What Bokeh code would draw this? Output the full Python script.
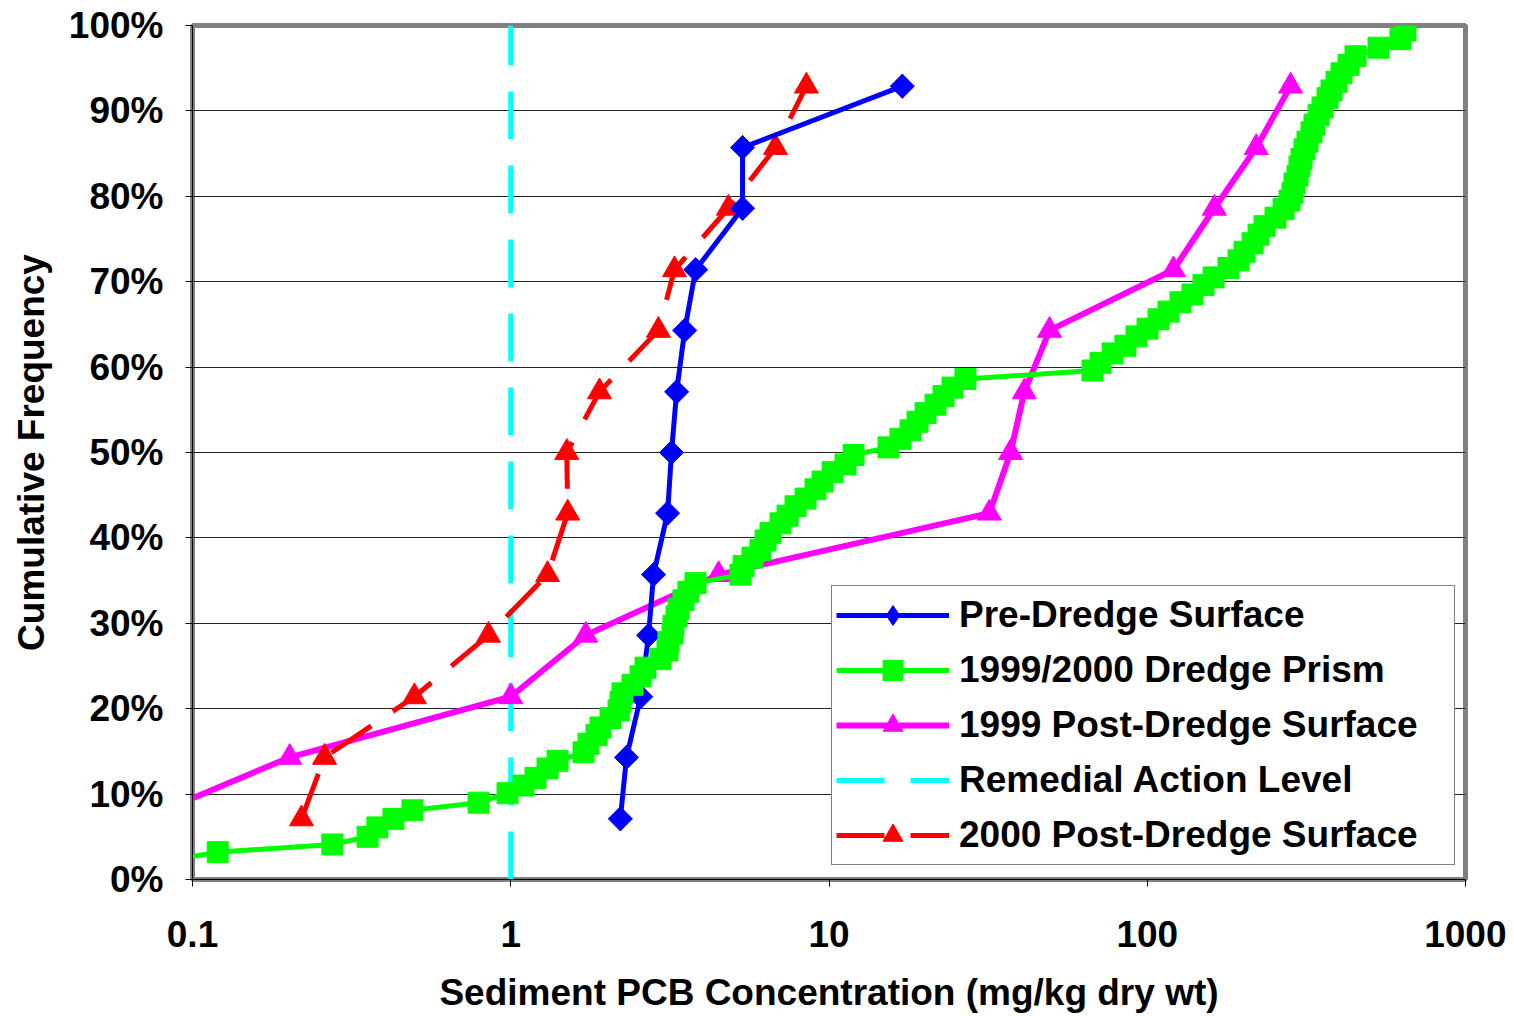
from bokeh.plotting import figure
from bokeh.models import FixedTicker, Legend, LegendItem, CustomJSTickFormatter
from bokeh.embed import file_html
from bokeh.resources import INLINE
import math

# ---------------- data ----------------
x_ticks = [0.1, 1, 10, 100, 1000]
y_ticks = [0, 10, 20, 30, 40, 50, 60, 70, 80, 90, 100]

rank_pct = [7.1, 14.3, 21.4, 28.6, 35.7, 42.9, 50.0, 57.1, 64.3, 71.4, 78.6, 85.7, 92.9]

pre_dredge_x = [2.21, 2.31, 2.56, 2.71, 2.81, 3.11, 3.20, 3.32, 3.52, 3.81, 5.35, 5.35, 17.0]
pre_dredge_y = rank_pct

post1999_x = [0.07, 0.202, 1.0, 1.72, 4.50, 31.9, 37.2, 41.1, 49.3, 120.9, 162.5, 220.0, 282.0]
post1999_y = rank_pct

post2000_x = [0.220, 0.260, 0.498, 0.851, 1.305, 1.51, 1.50, 1.90, 2.91, 3.27, 4.83, 6.79, 8.49]
post2000_y = rank_pct

prism_x = [0.083, 0.120, 0.275, 0.355, 0.381, 0.428, 0.491, 0.792, 0.977, 1.097,
           1.196, 1.305, 1.403, 1.693, 1.755, 1.859, 1.914, 2.058, 2.181, 2.213,
           2.244, 2.413, 2.557, 2.651, 2.954, 3.108, 3.131, 3.223, 3.246, 3.318,
           3.367, 3.489, 3.617, 3.806,
           5.27, 5.39, 5.75, 6.09, 6.32, 6.55, 7.04, 7.41, 7.85, 8.44,
           9.07, 9.54, 10.26, 11.27, 11.94, 15.38, 16.77, 18.04, 18.97, 20.11,
           21.61, 22.90, 24.44, 26.84,
           67.3, 71.3, 77.8, 85.4, 92.5, 100.2, 108.5, 116.6, 127.2, 138.7,
           150.2, 161.6, 180.0, 193.5, 202.1, 214.2, 223.7, 233.6, 252.9, 268.0,
           279.9, 286.0, 290.2, 296.6, 300.9, 305.3, 312.0, 318.8, 328.2, 335.4,
           345.3, 355.4, 368.5, 379.3, 393.3, 407.8, 429.0, 451.2, 532.9, 624.7,
           647.8]
prism_y = [2.2, 3.2, 4.1, 5.0, 6.1, 7.1, 8.1, 9.0, 10.1, 11.0,
           11.9, 13.0, 13.9, 14.9, 15.9, 16.9, 17.8, 18.9, 19.8, 20.8,
           21.8, 22.8, 23.8, 24.8, 25.8, 26.8, 27.8, 28.8, 29.7, 30.8,
           31.7, 32.7, 33.7, 34.7,
           35.7, 36.7, 37.7, 38.6, 39.7, 40.6, 41.7, 42.6, 43.7, 44.6,
           45.7, 46.6, 47.7, 48.6, 49.7, 50.6, 51.6, 52.6, 53.6, 54.6,
           55.6, 56.6, 57.6, 58.6,
           59.6, 60.5, 61.6, 62.5, 63.6, 64.5, 65.6, 66.5, 67.6, 68.5,
           69.6, 70.5, 71.6, 72.5, 73.5, 74.5, 75.5, 76.5, 77.5, 78.5,
           79.5, 80.4, 81.5, 82.4, 83.5, 84.4, 85.5, 86.4, 87.5, 88.4,
           89.5, 90.4, 91.5, 92.4, 93.4, 94.4, 95.4, 96.4, 97.4, 98.4,
           99.4]

ral_x = [1.0, 1.0]
ral_y = [0, 100]

labels = ["Pre-Dredge Surface", "1999/2000 Dredge Prism", "1999 Post-Dredge Surface",
          "Remedial Action Level", "2000 Post-Dredge Surface"]

# ---------------- figure ----------------
FONT = "Liberation Sans"

p = figure(x_axis_type="log", x_range=(0.1, 1000), y_range=(0, 100),
           frame_width=1273, frame_height=854,
           min_border_left=192, min_border_right=41, min_border_top=25, min_border_bottom=129,
           output_backend="svg", toolbar_location=None,
           background_fill_color="white", border_fill_color="white")

p.outline_line_color = "#808080"
p.outline_line_width = 5

p.xgrid.visible = False
p.ygrid.ticker = FixedTicker(ticks=y_ticks)
p.ygrid.grid_line_color = "#222222"
p.ygrid.grid_line_width = 1

p.xaxis.ticker = FixedTicker(ticks=x_ticks, minor_ticks=[])
p.yaxis.ticker = FixedTicker(ticks=y_ticks, minor_ticks=[])
p.xaxis.formatter = CustomJSTickFormatter(code="return tick.toString();")
p.yaxis.formatter = CustomJSTickFormatter(code="return tick.toFixed(0) + '%';")

for ax in (p.xaxis, p.yaxis):
    ax.axis_line_color = "black"
    ax.axis_line_width = 1
    ax.major_tick_line_color = "black"
    ax.major_tick_out = 7
    ax.major_tick_in = 0
    ax.minor_tick_line_color = None
    ax.major_label_text_font = FONT
    ax.major_label_text_font_style = "bold"
    ax.major_label_text_font_size = "37px"
    ax.major_label_text_color = "black"
    ax.axis_label_text_font = FONT
    ax.axis_label_text_font_style = "bold"
    ax.axis_label_text_font_size = "37px"
    ax.axis_label_text_color = "black"

p.xaxis.axis_label = "Sediment PCB Concentration (mg/kg dry wt)"
p.yaxis.axis_label = "Cumulative Frequency"
p.xaxis.major_label_standoff = 34
p.yaxis.major_label_standoff = 22
p.xaxis.axis_label_standoff = 22
p.yaxis.axis_label_standoff = 14

# ---------------- series ----------------
r_ral = p.line(ral_x, ral_y, line_color="#00FFFF", line_width=5, line_dash="48 26")

r_p99_l = p.line(post1999_x, post1999_y, line_color="#FF00FF", line_width=6)
r_p99_m = p.scatter(post1999_x, post1999_y, marker="triangle", size=24,
                    fill_color="#FF00FF", line_color="#FF00FF")

r_p00_l = p.line(post2000_x, post2000_y, line_color="#FF0000", line_width=5, line_dash="48 26")
r_p00_m = p.scatter(post2000_x, post2000_y, marker="triangle", size=24,
                    fill_color="#FF0000", line_color="#FF0000")

r_pre_l = p.line(pre_dredge_x, pre_dredge_y, line_color="#0000FF", line_width=5)
r_pre_d = p.scatter(pre_dredge_x, pre_dredge_y, marker="diamond", size=24,
                    fill_color="#0000FF", line_color="#0000FF")
r_pre_m = p.scatter(pre_dredge_x, pre_dredge_y, marker="square", angle=math.pi / 4, size=17,
                    fill_color="#0000FF", line_color="#0000FF")

r_pr_l = p.line(prism_x, prism_y, line_color="#00FF00", line_width=5)
r_pr_m = p.scatter(prism_x, prism_y, marker="square", size=21,
                   fill_color="#00FF00", line_color="#00FF00")

legend = Legend(items=[
    LegendItem(label=labels[0], renderers=[r_pre_l, r_pre_d]),
    LegendItem(label=labels[1], renderers=[r_pr_l, r_pr_m]),
    LegendItem(label=labels[2], renderers=[r_p99_l, r_p99_m]),
    LegendItem(label=labels[3], renderers=[r_ral]),
    LegendItem(label=labels[4], renderers=[r_p00_l, r_p00_m]),
], location=(639, 14))
legend.padding = 4
legend.margin = 0
legend.spacing = 5
legend.glyph_width = 113
legend.glyph_height = 50
legend.label_height = 50
legend.label_width = 491
legend.label_standoff = 10
legend.label_text_font = FONT
legend.label_text_font_style = "bold"
legend.label_text_font_size = "37px"
legend.label_text_color = "black"
legend.border_line_color = "black"
legend.border_line_width = 1
legend.background_fill_color = "white"
legend.background_fill_alpha = 1.0
p.add_layout(legend)

open("out.html", "w").write(file_html(p, INLINE))
